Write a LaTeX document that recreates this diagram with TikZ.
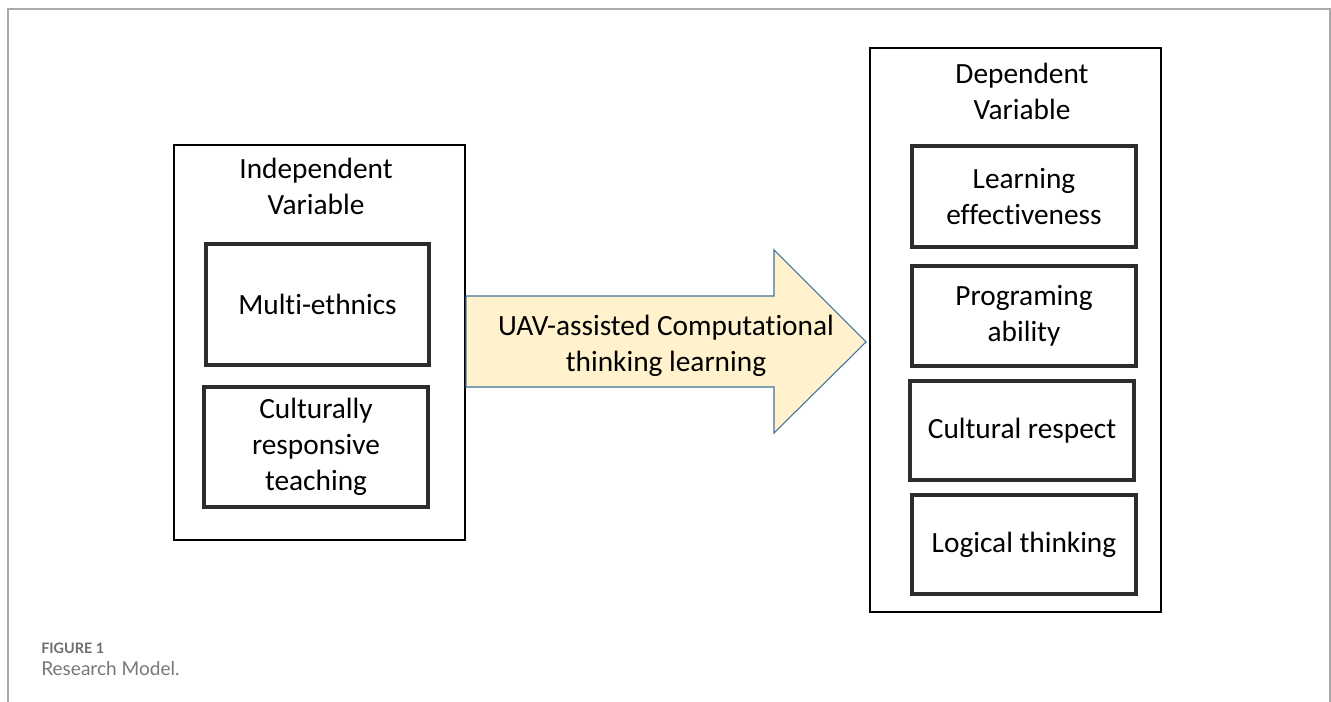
\documentclass[tikz,border=0pt]{standalone}
\usepackage{fontspec}
\setmainfont[Ligatures={NoCommon}]{Carlito}
\newfontfamily\capfont{Lato}
\definecolor{framegray}{RGB}{170,170,170}
\definecolor{arrowfill}{RGB}{255,242,204}
\definecolor{arrowline}{RGB}{65,113,156}
\definecolor{innerline}{RGB}{45,45,45}
\definecolor{capgray}{RGB}{110,110,110}
\definecolor{capbodygray}{RGB}{120,120,120}
\begin{document}
\begin{tikzpicture}[x=0.75pt,y=-0.75pt,
  outerbox/.style={draw=black,line width=1.1pt,inner sep=0pt,minimum width=218.25pt},
  innerbox/.style={draw=innerline,line width=2.3pt,inner sep=0pt,minimum width=167.25pt,align=center,font=\fontsize{22}{27}\selectfont},
  titletext/.style={align=center,inner sep=0pt,font=\fontsize{22}{27}\selectfont},
  captitle/.style={anchor=base west,inner sep=0pt,text=capgray,font=\capfont\bfseries\fontsize{10.8}{12}\selectfont},
  capbody/.style={anchor=base west,inner sep=0pt,text=capbodygray,font=\capfont\fontsize{14.3}{16}\selectfont}]
\useasboundingbox (0,0) rectangle (1331,702);
% page frame
\draw[framegray,line width=1.5pt] (8,702) -- (8,9) -- (1330,9) -- (1330,702);
% left group
\node[outerbox,minimum height=296.25pt] (indep) at (319.5,342.5) {};
\node[titletext] (indeptitle) at (316,186) {Independent\\Variable};
\node[innerbox,minimum height=90.75pt] (multi) at (317.5,304.5) {Multi-ethnics};
\node[innerbox,minimum width=168pt,minimum height=90pt] (crt) at (316,447) {Culturally\\responsive\\teaching};
% right group
\node[outerbox,minimum height=423pt] (dep) at (1015.5,330) {};
\node[titletext] (deptitle) at (1022,91) {Dependent\\Variable};
\node[innerbox,minimum width=168pt,minimum height=75.75pt] (learn) at (1024,196.5) {Learning\\effectiveness};
\node[innerbox,minimum width=168pt,minimum height=75pt] (prog) at (1024,316) {Programing\\ability};
\node[innerbox,minimum width=168pt,minimum height=74.25pt] (cult) at (1022,430.5) {Cultural respect};
\node[innerbox,minimum width=168pt,minimum height=74.25pt] (logic) at (1024,544.5) {Logical thinking};
% arrow
\draw[fill=arrowfill,draw=arrowline,line width=0.8pt]
  (466,296) -- (774,296) -- (774,250) -- (866,342) -- (774,433) -- (774,387) -- (466,387) -- cycle;
\node[titletext] (uav) at (666,346) {UAV-assisted Computational\\thinking learning};
% caption
\node[captitle] (figlabel) at (41,653) {FIGURE 1};
\node[capbody] (figcap) at (41,675) {Research Model.};
\end{tikzpicture}
\end{document}
